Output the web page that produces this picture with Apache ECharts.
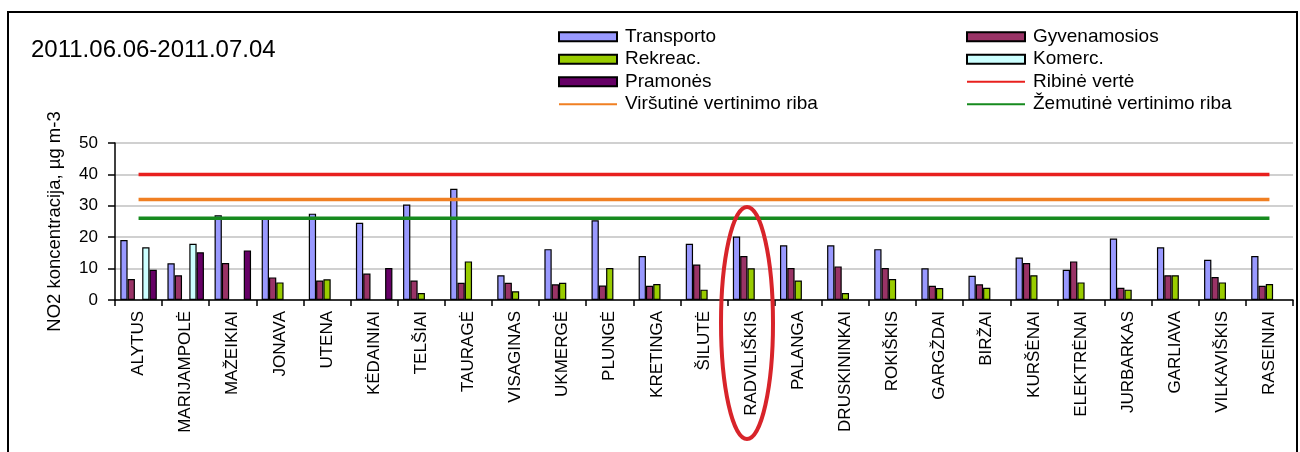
<!DOCTYPE html>
<html>
<head>
<meta charset="utf-8">
<title>NO2 koncentracija</title>
<script src="https://cdn.jsdelivr.net/npm/echarts@6/dist/echarts.min.js"></script>
<style>
    html, body { margin: 0; padding: 0; background: #fff; }
    #_chart { width: 1300px; height: 452px; }
</style>
</head>
<body>
<div id="_chart"></div>
<script>
var categories = ['ALYTUS', 'MARIJAMPOLĖ', 'MAŽEIKIAI', 'JONAVA', 'UTENA', 'KĖDAINIAI', 'TELŠIAI', 'TAURAGĖ',
    'VISAGINAS', 'UKMERGĖ', 'PLUNGĖ', 'KRETINGA', 'ŠILUTĖ', 'RADVILIŠKIS', 'PALANGA', 'DRUSKININKAI',
    'ROKIŠKIS', 'GARGŽDAI', 'BIRŽAI', 'KURŠĖNAI', 'ELEKTRĖNAI', 'JURBARKAS', 'GARLIAVA', 'VILKAVIŠKIS', 'RASEINIAI'];

var transporto   = [19.1, 11.7, 27.0, 26.2, 27.5, 24.6, 30.4, 35.4, 7.9, 16.2, 25.4, 14.0, 17.9, 20.2, 17.4, 17.4, 16.2, 10.1, 7.7, 13.5, 9.6, 19.6, 16.8, 12.8, 14.0];
var gyvenamosios = [6.7, 7.9, 11.8, 7.2, 6.2, 8.4, 6.2, 5.5, 5.5, 5.0, 4.6, 4.5, 11.3, 14.0, 10.2, 10.7, 10.2, 4.5, 5.0, 11.8, 12.3, 3.9, 7.9, 7.3, 4.5];
var rekreac      = [null, null, null, 5.6, 6.6, null, 2.2, 12.3, 2.8, 5.5, 10.2, 5.1, 3.3, 10.1, 6.2, 2.2, 6.7, 3.8, 3.9, 7.9, 5.6, 3.3, 7.9, 5.6, 5.1];
var komerc       = [16.8, 17.9, null, null, null, null, null, null, null, null, null, null, null, null, null, null, null, null, null, null, null, null, null, null, null];
var pramones     = [9.6, 15.2, 15.8, null, null, 10.2, null, null, null, null, null, null, null, null, null, null, null, null, null, null, null, null, null, null, null];

// ribinės vertės (visoms stotims vienodos)
var ribine    = [40, 40, 40, 40, 40, 40, 40, 40, 40, 40, 40, 40, 40, 40, 40, 40, 40, 40, 40, 40, 40, 40, 40, 40, 40];
var virsutine = [32, 32, 32, 32, 32, 32, 32, 32, 32, 32, 32, 32, 32, 32, 32, 32, 32, 32, 32, 32, 32, 32, 32, 32, 32];
var zemutine  = [26, 26, 26, 26, 26, 26, 26, 26, 26, 26, 26, 26, 26, 26, 26, 26, 26, 26, 26, 26, 26, 26, 26, 26, 26];

var yTicks = [0, 10, 20, 30, 40, 50];

var font = '"Liberation Sans", Arial, sans-serif';

function barSeries(name, data, color) {
    return {
        name: name,
        type: 'bar',
        data: data,
        barWidth: 7.3,
        barGap: '0%',
        itemStyle: { color: color, borderColor: '#000', borderWidth: 1.2 }
    };
}

function lineSeries(name, data, color) {
    return {
        name: name,
        type: 'line',
        data: data,
        symbol: 'none',
        silent: true,
        lineStyle: { color: color, width: 3.5 },
        itemStyle: { color: 'rgba(0,0,0,0)' }   // no dot in the legend icon
    };
}

var legendCommon = {
    orient: 'vertical',
    top: 27,
    padding: 0,
    itemWidth: 58,
    itemHeight: 9,
    itemGap: 3,
    textStyle: { fontFamily: font, fontSize: 19, color: '#000', lineHeight: 19.5, padding: [0, 0, 0, 3] }
};

var chart = echarts.init(document.getElementById('_chart'));
var option = {
    backgroundColor: '#fff',
    animation: false,
    title: {
        text: '2011.06.06-2011.07.04',
        left: 26,
        top: 33,
        textStyle: { fontFamily: font, fontSize: 24, fontWeight: 'normal', color: '#000' }
    },
    legend: [
        Object.assign({
            left: 558,
            data: [{ name: 'Transporto', icon: 'rect' }, { name: 'Rekreac.', icon: 'rect' },
                   { name: 'Pramonės', icon: 'rect' }, 'Viršutinė vertinimo riba']
        }, legendCommon),
        Object.assign({
            left: 966,
            data: [{ name: 'Gyvenamosios', icon: 'rect' }, { name: 'Komerc.', icon: 'rect' },
                   'Ribinė vertė', 'Žemutinė vertinimo riba']
        }, legendCommon)
    ],
    grid: { left: 115, right: 7, top: 143, bottom: 152 },
    xAxis: {
        type: 'category',
        data: categories,
        axisLine: { lineStyle: { color: '#000', width: 1.5 } },
        axisTick: { show: true, length: 6, lineStyle: { color: '#000', width: 1.5 } },
        axisLabel: { rotate: 90, interval: 0, margin: 11, fontFamily: font, fontSize: 17, color: '#000' }
    },
    yAxis: {
        type: 'value',
        min: yTicks[0],
        max: yTicks[yTicks.length - 1],
        interval: 10,
        name: 'NO2 koncentracija, µg m-3',
        nameLocation: 'middle',
        nameGap: 51,
        nameTextStyle: { fontFamily: font, fontSize: 18.5, color: '#000' },
        axisLine: { show: true, lineStyle: { color: '#000', width: 1.5 } },
        axisTick: { show: true, length: 7, lineStyle: { color: '#000', width: 1.5 } },
        axisLabel: { margin: 17, fontFamily: font, fontSize: 17, color: '#000' },
        splitLine: { lineStyle: { color: '#c0c0c0', width: 1.5 } }
    },
    series: [
        barSeries('Transporto', transporto, '#9999FF'),
        barSeries('Gyvenamosios', gyvenamosios, '#993366'),
        barSeries('Rekreac.', rekreac, '#99CC00'),
        barSeries('Komerc.', komerc, '#CCFFFF'),
        barSeries('Pramonės', pramones, '#660066'),
        lineSeries('Ribinė vertė', ribine, '#E8201E'),
        lineSeries('Viršutinė vertinimo riba', virsutine, '#F07F22'),
        lineSeries('Žemutinė vertinimo riba', zemutine, '#168A1E')
    ],
    graphic: [
        {
            type: 'rect',
            z: 100,
            shape: { x: 8, y: 12, width: 1289, height: 470 },
            style: { fill: 'none', stroke: '#000', lineWidth: 2 }
        },
        {
            // RADVILIŠKIS pažymėjimas
            type: 'ellipse',
            z: 100,
            shape: { cx: 747, cy: 323, rx: 26, ry: 116 },
            style: { fill: 'none', stroke: '#D8242A', lineWidth: 4 }
        }
    ]
};
chart.setOption(option);
</script>
</body>
</html>
